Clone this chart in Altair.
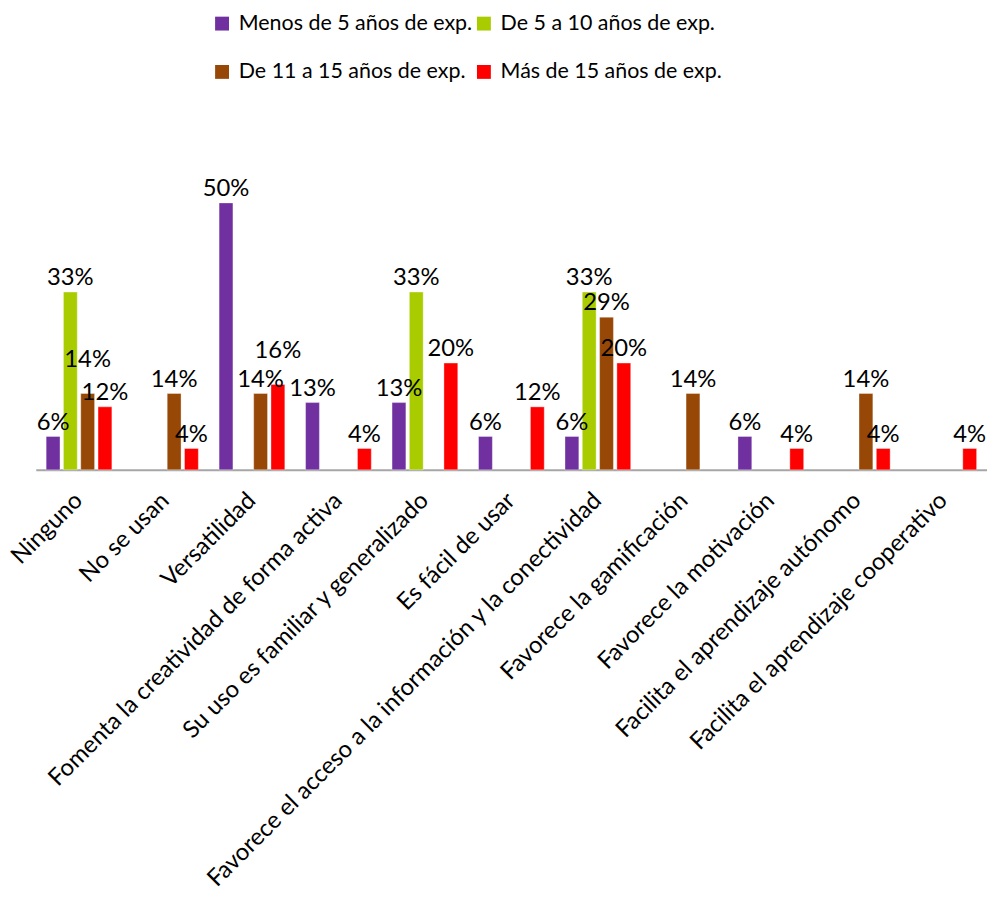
import altair as alt
import pandas as pd

categories = [
    "Ninguno",
    "No se usan",
    "Versatilidad",
    "Fomenta la creatividad de forma activa",
    "Su uso es familiar y generalizado",
    "Es fácil de usar",
    "Favorece el acceso a la información y la conectividad",
    "Favorece la gamificación",
    "Favorece la motivación",
    "Facilita el aprendizaje autónomo",
    "Facilita el aprendizaje cooperativo",
]
series = [
    "Menos de 5 años de exp.",
    "De 5 a 10 años de exp.",
    "De 11 a 15 años de exp.",
    "Más de 15 años de exp.",
]
menos5 = [0.0625, None, 0.50, 0.126, 0.126, 0.0625, 0.0625, None, 0.0625, None, None]
de5a10 = [0.333, None, None, None, 0.333, None, 0.333, None, None, None, None]
de11a15 = [0.143, 0.143, 0.143, None, None, None, 0.286, 0.143, None, 0.143, None]
mas15 = [0.118, 0.04, 0.16, 0.04, 0.20, 0.118, 0.20, None, 0.04, 0.04, 0.04]
colors = ["#7030A0", "#A9CC00", "#974806", "#FF0000"]

Y_MAX = 0.6
PLOT_H = 323
LABEL_FS = 24
px_per_unit = PLOT_H / Y_MAX

rows = []
for s, vals in zip(series, [menos5, de5a10, de11a15, mas15]):
    for c, v in zip(categories, vals):
        if v is not None:
            rows.append({"cat": c, "serie": s, "valor": v, "label_y": v})
df = pd.DataFrame(rows)

# Lift the label of the taller bar when two neighbouring labels would collide
all_vals = [menos5, de5a10, de11a15, mas15]
for ci, c in enumerate(categories):
    for si in range(len(series) - 1):
        a, b = all_vals[si][ci], all_vals[si + 1][ci]
        if a is None or b is None:
            continue
        if abs(a - b) * px_per_unit < LABEL_FS:
            taller = si if a > b else si + 1
            v = all_vals[taller][ci]
            mask = (df["cat"] == c) & (df["serie"] == series[taller])
            df.loc[mask, "label_y"] = v + 20 / px_per_unit

x_enc = alt.X(
    "cat:N",
    sort=categories,
    scale=alt.Scale(paddingInner=0.2, paddingOuter=0.1),
    axis=alt.Axis(
        title=None,
        labelAngle=-45,
        labelAlign="right",
        labelBaseline="middle",
        labelFontSize=24,
        labelColor="black",
        labelLimit=0,
        labelPadding=27,
        ticks=False,
        domainColor="#A6A6A6",
        domainWidth=2,
        labelOverlap=False,
    ),
)
xoff = alt.XOffset("serie:N", sort=series, scale=alt.Scale(paddingInner=0.2, paddingOuter=0.1))
y_enc = alt.Y("valor:Q", scale=alt.Scale(domain=[0, Y_MAX]), axis=None)

bars = alt.Chart(df).mark_bar(stroke="white", strokeWidth=0.6, strokeOpacity=0.6).encode(
    x=x_enc,
    xOffset=xoff,
    y=y_enc,
    color=alt.Color(
        "serie:N",
        sort=series,
        scale=alt.Scale(domain=series, range=colors),
        legend=alt.Legend(
            title=None,
            orient="none",
            direction="horizontal",
            legendX=177,
            legendY=-138,
            columns=2,
            columnPadding=0,
            rowPadding=26,
            labelFontSize=21.6,
            labelColor="black",
            symbolType="square",
            symbolSize=196,
            symbolStrokeWidth=0,
            labelOffset=6,
            labelLimit=0,
        ),
    ),
)

labels = alt.Chart(df).mark_text(baseline="bottom", dy=-2, fontSize=LABEL_FS, color="black").encode(
    x=alt.X("cat:N", sort=categories),
    xOffset=alt.XOffset("serie:N", sort=series),
    y=alt.Y("label_y:Q", scale=alt.Scale(domain=[0, Y_MAX]), axis=None),
    text=alt.Text("valor:Q", format=".0%"),
)

chart = (
    alt.layer(bars, labels)
    .properties(
        width=959,
        height=PLOT_H,
        autosize=alt.AutoSizeParams(type="none"),
        padding={"left": 28, "top": 139, "right": 0, "bottom": 428},
    )
    .configure(font="Lato")
    .configure_view(stroke=None)
)

chart.save("out.html", embed_options={"renderer": "svg", "actions": False})
